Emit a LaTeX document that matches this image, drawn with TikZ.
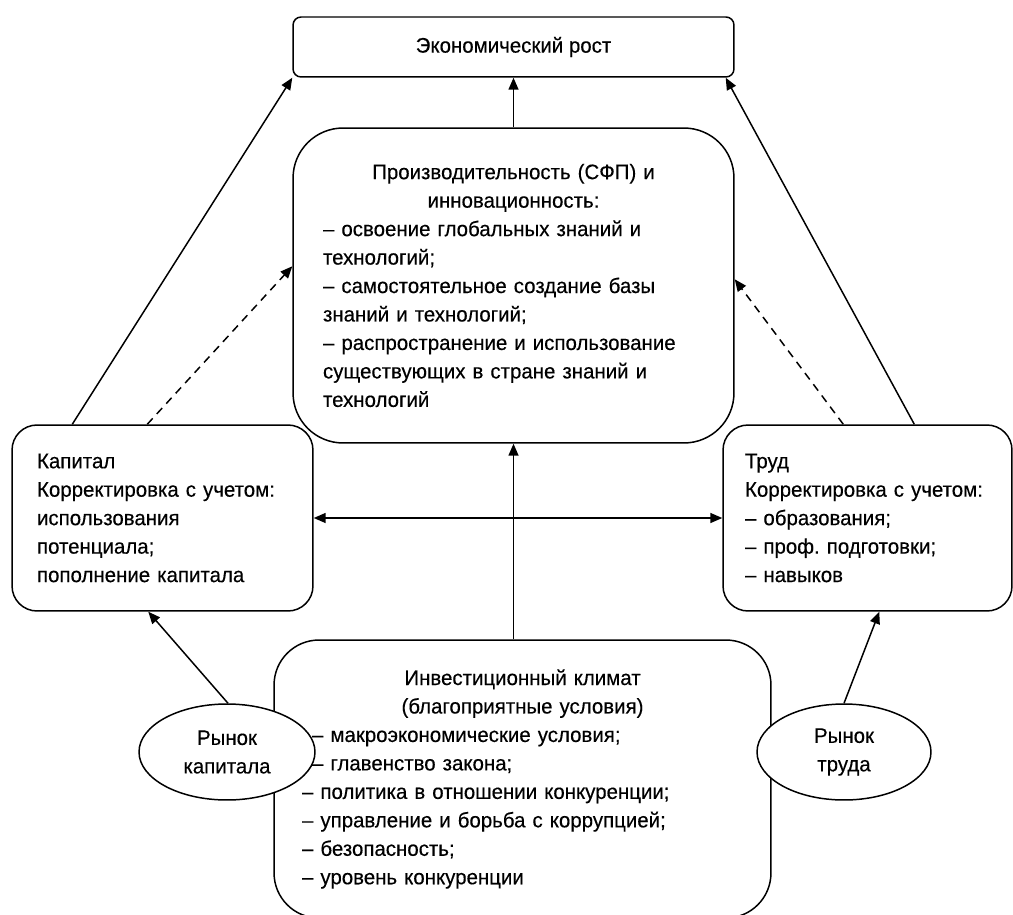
\documentclass[tikz,border=0pt]{standalone}
\usepackage{fontspec}
\setmainfont{Liberation Sans}[FakeStretch=0.97,FakeBold=0.3]
\frenchspacing
\usetikzlibrary{shapes.geometric,arrows.meta,calc}
\begin{document}
\begin{tikzpicture}[x=.02cm,y=-.02cm,line width=.85pt,
 box/.style={draw,rectangle,fill=white,inner sep=0pt,font=\fontsize{12}{16.2}\selectfont},
 oval/.style={draw,ellipse,fill=white,inner sep=0pt,align=center,
   minimum height=1.92cm,font=\fontsize{12}{16.2}\selectfont},
 arr/.style={-{Triangle[length=2.4mm,width=2mm]}},
 arrs/.style={{Triangle[length=2.4mm,width=2mm]}-{Triangle[length=2.4mm,width=2mm]}},
 darr/.style={arr,dash pattern=on 1.6mm off 1.2mm}]
 \useasboundingbox (0,0) rectangle (1013,915);
 \path
 (513.5,47) node[box,rounded corners=.16cm,minimum width=8.82cm,
   minimum height=1.2cm] (rost) {Экономический рост} % <<< верх
 (513.5,285.5) node[box,rounded corners=1cm,minimum width=8.82cm,
   minimum height=6.3cm,text width=7.62cm,align=left] (prod)
   {{\centering Производительность (СФП) и\\инновационность:\par}
   – освоение глобальных знаний и\\технологий;\\
   – самостоятельное создание базы\\знаний и технологий;\\
   – распространение и использование\\существующих в стране знаний и\\технологий}
 (162.5,518) node[box,rounded corners=.5cm,minimum width=6.02cm,
   minimum height=3.72cm,text width=5.02cm,align=left] (kap)
   {Капитал\\Корректировка с учетом:\\использования\\потенциала;\\пополнение капитала}
 (867.5,518) node[box,rounded corners=.5cm,minimum width=5.78cm,
   minimum height=3.72cm,text width=4.9cm,align=left] (trud)
   {Труд\\Корректировка с учетом:\\– образования;\\– проф. подготовки;\\– навыков}
 (522.5,779) node[box,rounded corners=.9cm,minimum width=9.94cm,
   minimum height=5.56cm,text width=8.82cm,align=left] (klimat) % <<< низ
   {{\centering Инвестиционный климат\\(благоприятные условия)\par}
   \hspace*{.2cm}– макроэкономические условия;\\
   \hspace*{.2cm}– главенство закона;\\
   – политика в отношении конкуренции;\\
   – управление и борьба с коррупцией;\\
   – безопасность;\\
   – уровень конкуренции}
 (227,752) node[oval,minimum width=3.52cm] (rk) {Рынок\\капитала}
 (844,752) node[oval,minimum width=3.48cm] (rt) {Рынок\\труда};
 \begin{scope}[arr]
 \draw (prod.north)--(rost.south);
 \draw ($(kap.north west)+(61,0)$)--(rost.south west);
 \draw ($(trud.north west)+(192,0)$)--($(rost.south east)+(-9,0)$);
 \draw (prod.south |- klimat.north)--(prod.south);
 \draw ($(rk.north)+(1,0)$)--($(kap.south west)+(137,0)$);
 \draw (rt.north)--($(trud.south west)+(157,0)$);
 \end{scope}
 \draw[arrs] (kap.east)--(trud.west);
 \draw[darr] ($(kap.north west)+(136,0)$)--($(prod.north west)+(0,139)$);
 \draw[darr] ($(trud.north west)+(121,0)$)--($(prod.north east)+(0,152)$);
\end{tikzpicture}
\end{document}
